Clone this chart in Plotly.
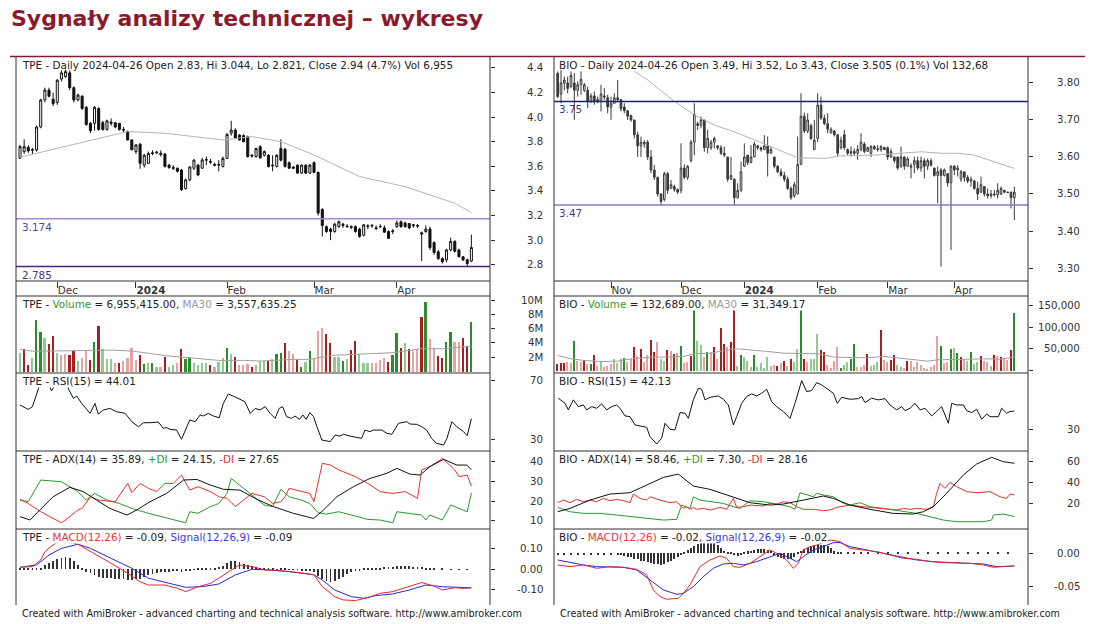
import plotly.graph_objects as go

W, H = 1097, 624
FONT = "DejaVu Sans"

# ======================= TPE (left chart) =======================
TPE_OPEN = [3.666,3.72,3.755,3.73,3.733,3.92,4.14,4.22,4.145,4.12,
 4.31,4.33,4.36,4.24,4.14,4.17,4.08,3.95,3.95,4.07,
 3.955,3.90,3.96,3.955,3.95,3.90,3.885,3.815,3.72,3.78,
 3.61,3.625,3.71,3.71,3.706,3.70,3.61,3.59,3.585,3.57,
 3.42,3.49,3.585,3.61,3.585,3.65,3.64,3.615,3.61,3.60,
 3.665,3.87,3.895,3.855,3.85,3.84,3.69,3.68,3.76,3.69,
 3.69,3.61,3.60,3.745,3.74,3.63,3.595,3.61,3.545,3.61,
 3.545,3.63,3.55,3.25,3.11,3.09,3.07,3.11,3.13,3.115,
 3.11,3.11,3.09,3.04,3.11,3.115,3.10,3.11,3.10,3.07,
 3.07,3.11,3.15,3.14,3.135,3.125,3.12,3.06,3.07,3.09,
 2.98,2.905,2.85,2.84,2.92,2.99,2.92,2.865,2.84,2.83]
TPE_HIGH = [3.775,3.82,3.77,3.75,3.93,4.15,4.24,4.24,4.20,4.31,
 4.38,4.385,4.38,4.25,4.19,4.18,4.09,3.96,4.09,4.08,
 3.97,3.98,3.99,3.96,3.95,3.92,3.89,3.82,3.78,3.79,
 3.70,3.72,3.73,3.725,3.73,3.71,3.62,3.61,3.59,3.58,
 3.50,3.60,3.66,3.62,3.67,3.68,3.66,3.63,3.65,3.68,
 3.87,3.97,3.91,3.86,3.86,3.85,3.70,3.75,3.77,3.73,
 3.70,3.69,3.70,3.82,3.75,3.64,3.60,3.615,3.615,3.615,
 3.62,3.64,3.56,3.26,3.12,3.10,3.14,3.16,3.14,3.13,
 3.12,3.12,3.10,3.13,3.13,3.13,3.12,3.13,3.12,3.08,
 3.09,3.16,3.16,3.15,3.14,3.13,3.13,3.07,3.12,3.11,
 2.99,2.92,2.86,2.93,3.02,3.00,2.93,2.87,2.85,3.044]
TPE_LOW = [3.66,3.70,3.71,3.70,3.72,3.91,4.12,4.16,4.09,4.10,
 4.29,4.32,4.22,4.12,4.13,4.06,3.93,3.87,3.89,3.89,
 3.89,3.89,3.93,3.91,3.89,3.88,3.81,3.73,3.70,3.58,
 3.59,3.62,3.69,3.70,3.68,3.59,3.58,3.57,3.55,3.40,
 3.41,3.48,3.57,3.52,3.58,3.61,3.62,3.60,3.56,3.59,
 3.66,3.85,3.82,3.81,3.80,3.67,3.67,3.67,3.66,3.68,
 3.59,3.56,3.59,3.64,3.59,3.58,3.58,3.54,3.54,3.54,
 3.54,3.55,3.20,3.03,3.06,3.00,3.06,3.10,3.10,3.10,
 3.09,3.06,3.02,3.03,3.09,3.10,3.08,3.10,3.06,3.01,
 3.05,3.10,3.10,3.10,3.09,3.10,3.10,2.83,3.06,2.92,
 2.88,2.84,2.81,2.82,2.91,2.90,2.86,2.83,2.785,2.821]
TPE_CLOSE = [3.76,3.76,3.725,3.735,3.92,4.14,4.22,4.17,4.11,4.30,
 4.36,4.37,4.24,4.14,4.18,4.07,3.94,3.89,4.08,3.90,
 3.90,3.97,3.95,3.92,3.90,3.895,3.815,3.735,3.775,3.625,
 3.69,3.705,3.705,3.715,3.695,3.60,3.59,3.585,3.56,3.41,
 3.49,3.595,3.65,3.53,3.652,3.655,3.635,3.61,3.615,3.665,
 3.86,3.895,3.83,3.815,3.80,3.68,3.685,3.745,3.67,3.72,
 3.60,3.605,3.69,3.65,3.60,3.585,3.585,3.545,3.61,3.545,
 3.61,3.55,3.22,3.12,3.07,3.07,3.13,3.15,3.12,3.11,
 3.105,3.07,3.03,3.125,3.115,3.12,3.095,3.11,3.065,3.015,
 3.075,3.14,3.11,3.11,3.10,3.12,3.115,3.05,3.09,2.94,
 2.90,2.85,2.825,2.92,2.99,2.91,2.865,2.84,2.81,2.94]
TPE_MA_X = [0, 26, 35, 49, 56, 63, 71, 82, 93, 105, 109]
TPE_MA_Y = [3.674, 3.883, 3.869, 3.815, 3.842, 3.801, 3.693, 3.517, 3.435, 3.30, 3.224]
TPE_LEVELS = [3.174, 2.785]
TPE_LEVEL_TXT = ["3.174", "2.785"]

TPE_VOL_MLN = [2.54,3.19,0.85,1.83,7.18,5.54,4.74,3.80,4.98,2.63,
 2.25,2.49,2.25,2.86,1.46,1.92,2.96,1.55,4.13,6.38,
 3.10,1.69,1.69,1.13,1.13,1.46,1.92,3.33,1.55,2.25,
 0.99,1.13,1.13,0.66,0.66,2.02,0.66,0.85,1.22,3.19,
 1.78,1.92,1.13,0.85,1.22,1.13,0.85,0.66,1.31,1.92,
 3.33,2.39,2.02,0.85,0.85,0.99,0.66,0.85,1.46,1.46,
 1.46,1.69,2.39,2.63,4.04,2.86,2.39,1.78,0.66,1.31,
 2.86,1.69,5.68,6.15,5.21,4.04,2.02,2.02,1.46,1.69,
 2.96,4.27,2.39,1.13,1.13,1.13,1.13,1.60,1.88,1.31,
 2.25,5.45,3.33,4.04,3.10,2.86,3.10,7.56,9.67,4.51,
 3.33,2.16,1.92,4.13,5.54,4.13,4.13,4.74,3.57,6.955]
TPE_VOL_KIND = ("gRRgGGgRRg" "rrRRgrrRGR" "gggrRrrrrR" "GgGgrRggrR" "GGggggRrgg"
                "GgRrrrRggg" "RgGGRrrRGg" "GrrrRRggGg" "RRgggrrrrR" "GGRgRrrRGr" "rRRGGrrRRG")
TPE_VMA_X = [0, 3, 18, 22, 27, 36, 41, 48, 54, 58, 66, 70, 75, 83, 90, 97, 102, 109]
TPE_VMA_Y = [3.1, 2.82, 2.96, 3.0, 2.86, 2.16, 1.92, 1.55, 1.55, 1.46, 1.69, 1.69, 2.25, 2.49, 2.63, 3.19, 3.19, 3.557]

TPE_RSI_X = [0,2,3,4.4,5.2,6.2,7.1,7.6,8.4,9.5,10.5,11.3,11.7,12.9,13.7,14.9,16.9,18.1,18.9,20.1,21.7,23.3,25.4,27,28.6,
 29.8,31.4,33.4,34.6,35.4,36.2,37.8,39,41,42.3,43.5,44.3,45.5,46.7,48.1,49.1,50.3,51.5,53.1,54.3,55.6,56.8,58,59.2,60.4,
 61.6,62.6,63.4,64.4,65.6,66.4,67.5,68.3,69.1,70,70.9,71.7,72.9,74.9,76.1,77.3,78.1,79.7,80.5,82.5,83.3,84.5,85.3,87.4,
 88.6,89.8,91.4,93.4,94.2,95.8,97,98.2,99.4,100.6,102.3,103.1,104.3,105.5,107.1,108,109]
TPE_RSI_Y = [53.4,50.4,52.3,64.1,71,73,67,63,67,72,73,70,64.3,57.9,59.5,54.5,47.7,54.5,47.2,50,51.1,48.8,47.7,42,38.6,
 41.3,41.3,41.8,37.5,38,36.8,36.3,30,43.2,42,46.6,45.9,47.7,45.9,44.7,54.5,60.9,59.5,57.3,55.7,47.7,51.1,50,52.3,47.7,
 44.3,51.1,52.3,45.4,44.3,45.9,43.6,46.6,43.6,48.2,45.4,38.6,29.5,28.4,32.9,32.2,33.4,32.2,31.8,30.6,36.3,35.2,36.3,36.3,
 34,33.4,40.9,42,40.4,40.2,38.6,36.3,30.6,27.2,26.1,30.6,42,38.6,35.2,32.5,44.01]

TPE_ADX_X = [0,2.4,4.8,8,12,15.3,18.5,21.7,25.8,28.2,31.4,35.4,39.5,42.7,45.9,49.1,53.1,57.2,61.2,66,70.9,73.3,76.5,
 80.5,84.5,88.6,91,94.2,96.6,99,102.3,105.5,107.9,109]
TPE_ADX_Y = [12.1,10.4,15.5,22.2,27,24.8,20.5,16.3,12.9,15.5,19.7,23.9,30.7,31,28.2,26,25.6,20.9,17.2,13.8,11.2,15.5,
 22.2,27.3,31.5,34.1,36.6,33.7,33.2,37.5,41.2,38.3,38.3,35.89]
TPE_PDI_X = [0,2,5,10,14,16,18,21,24,27,31,36,40,41,43,46,48,50,51,54,57,59,61,63,65,68,70,72,74,77,81,84,87,90,91,94,
 97,98,99,102,104,108,109]
TPE_PDI_Y = [20.5,19.7,30.7,29.8,24.8,20.5,23.9,20.5,18.8,16.3,13.8,11.2,9,14.6,13.8,17.2,18.8,23.9,31.5,26.5,21.4,18,
 17.2,26,22.2,20.5,18.8,14.1,13.4,14.6,12.4,10.7,10.4,9,14.6,13.8,12.9,10.4,12.9,10.4,18,14.6,24.15]
TPE_MDI_X = [0,2,5,8,10,12,14,15,17,19,23,26,27,29,31,33,35,37,39,41,43,46,48,50,52,55,56,59,61,63,64,65,67,70,71,73,
 75,77,81,84,87,90,93,96,97,99,102,105,106,108,109]
TPE_MDI_Y = [20.9,18.8,14.6,11.2,9,12.1,15.5,16.3,22.2,20.5,19.7,29,24.3,29,26.5,24.8,29,29,33.2,25.6,27.3,24.8,22.2,
 21.4,17.2,22.2,23.9,22.2,18.8,19.7,22.2,26.5,25.6,23.9,19.7,39.2,38.3,35.8,32.4,29,24.8,23.9,24.8,21.4,35.8,37.5,41.7,
 35.8,32.4,33.2,27.65]

TPE_MACD_X = [0,3,5,6,8,10,14,18,22,26,29,31,35,38,40,43,46,48,51,53,56,59,62,65,70,71,73,76,78,81,84,87,90,94,97,100,
 102,105,107,109]
TPE_MACD_Y = [0.0097,0.013,0.045,0.085,0.118,0.142,0.121,0.077,0.029,-0.019,-0.06,-0.076,-0.076,-0.092,-0.108,-0.084,
 -0.068,-0.043,-0.003,0.021,0.013,-0.003,-0.006,-0.011,-0.023,-0.027,-0.084,-0.132,-0.148,-0.151,-0.137,-0.116,-0.108,
 -0.084,-0.064,-0.081,-0.1,-0.089,-0.092,-0.09]
TPE_SIG_X = [0,4,7,10,14,17,22,27,31,36,40,44,48,52,56,60,65,71,73,76,80,83,86,90,94,98,102,106,109]
TPE_SIG_Y = [0.0097,0.021,0.069,0.101,0.121,0.101,0.053,0.005,-0.043,-0.068,-0.087,-0.084,-0.071,-0.027,0,-0.003,-0.011,
 -0.027,-0.052,-0.1,-0.132,-0.14,-0.127,-0.119,-0.1,-0.076,-0.084,-0.087,-0.09]
TPE_HIST = [0.002,0.002,0.003,0.003,0.005,
 0.008,0.021,0.032,0.042,0.05,0.056,0.06,0.055,0.04,0.022,0.005,
 -0.012,-0.02,-0.028,-0.035,-0.04,-0.042,-0.044,-0.045,-0.046,-0.048,-0.05,-0.05,-0.048,-0.045,
 -0.035,-0.028,-0.022,-0.018,-0.015,-0.013,-0.012,-0.01,-0.01,-0.012,-0.01,-0.006,-0.003,
 0.002,0.003,0.005,0.007,0.008,0.01,0.015,
 0.03,0.04,0.042,0.035,0.028,0.02,0.015,0.01,0.008,0.005,0.003,0.002,
 0.001,0.002,0.002,0.001,-0.002,-0.003,-0.004,-0.005,-0.008,
 -0.015,-0.03,-0.045,-0.055,-0.06,-0.055,-0.045,-0.035,-0.025,-0.015,-0.008,-0.004,
 0.002,0.004,0.005,0.006,0.008,0.01,0.012,0.013,0.015,0.016,0.015,0.014,0.013,0.012,0.01,0.008,0.006,
 0.002,0,0.002,0,0.001,0,0.001,0,0.001,0]
TPE_MONTH_POS = [9, 28, 50, 71, 91]
TPE_MONTH_TXT = ["Dec", "<b>2024</b>", "Feb", "Mar", "Apr"]

# ======================= BIO (right chart) =======================
BIO_OPEN = [3.826,3.77,3.799,3.80,3.79,3.80,3.78,3.795,3.78,3.78,
 3.75,3.765,3.755,3.75,3.765,3.76,3.735,3.745,3.76,3.755,
 3.735,3.725,3.712,3.70,3.66,3.63,3.635,3.64,3.60,3.565,
 3.545,3.50,3.485,3.555,3.515,3.52,3.512,3.51,3.57,3.545,
 3.59,3.64,3.69,3.685,3.70,3.625,3.625,3.64,3.63,3.625,
 3.61,3.60,3.54,3.54,3.49,3.51,3.575,3.605,3.585,3.60,
 3.63,3.625,3.62,3.63,3.61,3.60,3.575,3.56,3.55,3.54,
 3.515,3.495,3.50,3.58,3.71,3.67,3.685,3.62,3.65,3.74,
 3.705,3.69,3.665,3.67,3.66,3.625,3.66,3.62,3.61,3.615,
 3.61,3.62,3.635,3.615,3.61,3.628,3.622,3.62,3.625,3.625,
 3.60,3.60,3.60,3.575,3.60,3.575,3.572,3.58,3.59,3.57,
 3.59,3.575,3.59,3.57,3.55,3.565,3.55,3.555,3.53,3.575,
 3.565,3.54,3.56,3.545,3.535,3.535,3.515,3.505,3.52,3.50,
 3.495,3.50,3.498,3.50,3.51,3.505,3.505,3.49]
BIO_HIGH = [3.831,3.835,3.817,3.817,3.831,3.826,3.804,3.831,3.80,3.79,
 3.772,3.777,3.763,3.795,3.786,3.768,3.763,3.772,3.808,3.755,
 3.745,3.727,3.714,3.70,3.668,3.655,3.645,3.646,3.619,3.578,
 3.547,3.502,3.56,3.56,3.538,3.525,3.515,3.637,3.58,3.578,
 3.646,3.745,3.695,3.709,3.70,3.673,3.646,3.655,3.632,3.632,
 3.628,3.60,3.60,3.542,3.529,3.587,3.637,3.605,3.632,3.641,
 3.632,3.628,3.659,3.655,3.628,3.60,3.578,3.569,3.56,3.547,
 3.52,3.533,3.655,3.772,3.72,3.718,3.69,3.70,3.772,3.763,
 3.714,3.718,3.68,3.673,3.66,3.655,3.673,3.623,3.628,3.623,
 3.632,3.664,3.64,3.628,3.632,3.632,3.632,3.632,3.628,3.628,
 3.623,3.601,3.601,3.628,3.601,3.601,3.583,3.601,3.601,3.601,
 3.596,3.596,3.596,3.57,3.574,3.57,3.569,3.556,3.578,3.578,
 3.578,3.565,3.56,3.551,3.547,3.538,3.533,3.547,3.52,3.515,
 3.511,3.511,3.529,3.52,3.511,3.506,3.506,3.52]
BIO_LOW = [3.759,3.745,3.78,3.772,3.786,3.70,3.763,3.768,3.775,3.732,
 3.745,3.741,3.745,3.723,3.754,3.718,3.70,3.745,3.748,3.723,
 3.718,3.70,3.695,3.65,3.60,3.60,3.625,3.592,3.556,3.538,
 3.493,3.47,3.48,3.50,3.515,3.506,3.50,3.502,3.54,3.538,
 3.585,3.605,3.673,3.677,3.614,3.61,3.619,3.623,3.619,3.605,
 3.60,3.533,3.538,3.47,3.488,3.505,3.574,3.578,3.583,3.60,
 3.619,3.614,3.619,3.547,3.61,3.569,3.556,3.547,3.533,3.511,
 3.484,3.49,3.50,3.578,3.664,3.664,3.646,3.619,3.64,3.70,
 3.686,3.664,3.664,3.655,3.60,3.62,3.619,3.605,3.601,3.605,
 3.592,3.615,3.61,3.615,3.60,3.619,3.614,3.614,3.619,3.592,
 3.598,3.583,3.565,3.57,3.565,3.574,3.542,3.556,3.565,3.56,
 3.542,3.565,3.574,3.547,3.475,3.304,3.547,3.52,3.349,3.551,
 3.547,3.533,3.533,3.529,3.52,3.511,3.484,3.502,3.493,3.488,
 3.488,3.493,3.488,3.497,3.502,3.502,3.461,3.43]
BIO_CLOSE = [3.763,3.80,3.808,3.785,3.82,3.78,3.795,3.81,3.795,3.75,
 3.765,3.75,3.752,3.77,3.762,3.735,3.745,3.76,3.755,3.73,
 3.725,3.71,3.70,3.66,3.63,3.64,3.64,3.60,3.565,3.545,
 3.50,3.48,3.555,3.51,3.525,3.512,3.505,3.57,3.545,3.575,
 3.64,3.715,3.685,3.70,3.625,3.65,3.64,3.65,3.625,3.61,
 3.605,3.54,3.55,3.49,3.51,3.56,3.60,3.585,3.60,3.635,
 3.625,3.62,3.63,3.61,3.62,3.575,3.56,3.55,3.54,3.515,
 3.49,3.525,3.58,3.71,3.67,3.70,3.65,3.645,3.74,3.705,
 3.69,3.675,3.675,3.66,3.61,3.645,3.625,3.61,3.615,3.61,
 3.62,3.64,3.615,3.625,3.628,3.622,3.62,3.628,3.62,3.60,
 3.615,3.59,3.57,3.60,3.575,3.595,3.576,3.59,3.57,3.59,
 3.575,3.59,3.578,3.55,3.56,3.55,3.565,3.53,3.575,3.565,
 3.57,3.56,3.545,3.535,3.54,3.515,3.50,3.525,3.50,3.495,
 3.50,3.498,3.51,3.515,3.505,3.504,3.49,3.505]
BIO_MA_X = [23, 27, 35, 41, 47, 53, 59, 66, 72, 80, 85, 95, 100, 105, 109, 115, 120, 125, 131, 137]
BIO_MA_Y = [3.831, 3.808, 3.75, 3.714, 3.686, 3.668, 3.646, 3.62, 3.598, 3.596, 3.603, 3.605, 3.608, 3.61, 3.614,
            3.61, 3.61, 3.605, 3.587, 3.569]
BIO_LEVELS = [3.75, 3.47]
BIO_LEVEL_TXT = ["3.75", "3.47"]

BIO_VOL_K = [15.4,16.9,16.9,19.2,16.9,67.6,21.5,19.2,24.6,15.4,
 15.4,34.6,11.5,19.2,9.2,11.5,15.4,26.9,16.9,26.9,
 29.2,19.2,26.9,55.3,32.3,49.9,19.2,34.6,70.7,42.2,
 65.3,26.9,23.0,47.6,46.1,38.4,39.9,57.6,16.9,19.2,
 32.3,139.8,67.6,59.9,30.7,42.2,42.2,55.3,26.9,98.3,
 61.4,53.8,65.3,139.8,11.5,34.6,30.7,23.0,9.2,34.6,
 7.7,16.9,6.1,30.7,11.5,13.8,11.5,16.9,21.5,11.5,
 26.9,19.2,49.9,139.8,26.9,19.2,26.9,26.9,84.5,47.6,
 42.2,13.8,6.1,21.5,55.3,6.1,13.8,19.2,26.9,61.4,
 7.7,9.2,13.8,38.4,11.5,13.8,20.7,93.7,24.6,19.2,
 24.6,34.6,13.8,7.7,6.1,23.0,23.0,9.2,19.2,13.8,
 6.1,3.8,9.2,13.8,80.6,57.6,16.9,19.2,49.9,52.2,
 39.9,30.7,26.9,23.0,42.2,15.4,19.2,32.3,21.5,19.2,
 11.5,34.6,32.3,30.7,29.2,24.6,47.6,132.689]
BIO_VOL_KIND = ("RRRrrGrrRr" "GRrgrrrgrg" "GrrRrRrrRR" "rggRrRgGrr" "RGggrGrRrR" "RrRRgGggrG" "ggggrrRrRg"
                "RggGRrgggR" "RrrrrGggGG" "rrrRgggRrr" "RRggrRrrrr" "rgrrrGrrGg" "GRrgGggRrr" "gRrRrrRG")
BIO_VMA_X = [0, 4, 8, 13, 18, 22, 28, 33, 38, 41, 46, 50, 54, 58, 63, 68, 73, 78, 83, 88, 93, 98, 103, 108, 111, 114,
             118, 123, 128, 133, 137]
BIO_VMA_Y = [34.6, 26.9, 23, 20.7, 21.5, 26.9, 30.7, 30.7, 33, 38.4, 39.9, 46.1, 49.9, 47.6, 43.8, 39.9, 38.4, 38.4,
             30.7, 29.2, 29.2, 32.3, 28.4, 23, 21.5, 24.6, 25.3, 26.9, 26.9, 26.1, 31.349]

BIO_RSI_X = [0.2,2.2,3.2,4.7,6.2,7.7,8.7,10.2,11.7,13.2,14.7,16.2,17.7,18.7,20.2,21.7,23.2,25.2,26.7,27.7,29.7,31.2,32.2,
 33.7,35.2,36.7,38.2,39.2,40.7,42.2,43.2,44.2,45.7,48.2,49.7,51.2,52.7,53.7,55.2,56.7,58.2,59.7,61.2,62.7,64.2,65.7,
 67.7,69.7,71.2,73.2,74.7,76.2,77.7,79.2,81.2,82.7,83.9,85.2,87.7,90.2,91.2,92.2,94.2,96.2,98.2,99.7,101.7,103.2,104.2,
 105.7,107.2,108.7,110.2,112.2,113.7,115.2,117.2,118.2,119.7,121.7,122.7,124.2,125.7,127.2,128.7,129.7,132.2,133.2,
 134.7,135.7,137]
BIO_RSI_Y = [50.7,47.3,42.9,49.6,45.1,46.2,42.9,45.1,44,46.9,42.9,45.1,46.2,44,38.9,38.4,32.9,32.2,31.3,25.1,20.2,24,34,
 30,29.6,41.1,40.7,37.3,49.6,57.3,56.7,49.6,51.3,52.2,50,46.2,32.9,38.4,47.3,51.8,53.6,52.2,54,56.7,48.4,45.1,41.8,37.3,
 47.3,62.4,55.1,55.8,61.1,59.6,56.2,54,47.3,51.3,50,50.4,51.8,47.8,50.7,49.6,50.4,46.2,42.9,45.1,42.4,44,47.3,42.9,44,
 38.9,41.8,45.1,34,47.3,46.2,46.2,42.4,41.1,43.3,36.7,40.2,38.4,38.4,44,40.7,41.8,42.13]

BIO_ADX_X = [0,3.7,9.7,15.7,21.7,27.7,31.7,36.2,40.7,45.7,50.7,57.7,63.7,67.7,73.7,79.7,82.7,87.7,93.7,100.7,106.7,
 109.7,112.7,116.7,121.7,125.7,130.2,133.7,137]
BIO_ADX_Y = [11.9,15.1,23.1,28.9,30.2,39.2,44.9,48.1,36.6,33.4,28,20.6,18.3,19.3,23.1,27,24.7,18.3,14.2,10.3,9.7,11.9,
 16.7,29.6,47.2,57.8,64.2,60,58.46]
BIO_PDI_X = [0,3.7,7.7,12.7,17.7,22.7,27.7,31.7,35.7,37.2,39.7,40.7,42.7,45.7,49.7,52.7,54.7,57.7,61.7,65.7,69.7,71.2,
 72.7,76.7,77.7,79.7,82.7,85.7,87.7,90.7,93.7,97.7,100.7,103.7,107.7,111.7,115.7,119.7,123.7,127.7,130.2,130.7,133.7,137]
BIO_PDI_Y = [16.1,11.9,10.3,10.3,8.7,7.1,5.5,3.9,4.6,18.3,15.1,26.3,23.1,21.5,19.9,16.7,15.1,22.5,21.5,19.3,16.7,14.2,
 30.2,26.3,29.6,28,26.3,19.9,18.3,20.6,16.7,15.1,13.5,11.9,10.3,7.1,3.9,2.3,2.3,2.3,3.9,8.7,9.7,7.3]
BIO_MDI_X = [0,1.7,3.7,5.7,7.7,9.7,11.7,13.7,15.7,17.7,19.7,21.7,22.7,24.7,26.7,27.7,30.7,33.7,35.7,37.7,38.7,39.7,40.7,
 41.7,43.7,45.7,48.7,50.7,52.7,53.7,55.7,57.7,61.7,63.7,65.7,67.7,69.7,71.7,73.7,76.7,79.7,81.7,83.7,85.7,87.7,91.7,
 95.7,99.7,101.7,103.7,105.7,107.7,110.7,112.7,113.7,114.7,116.2,117.7,119.7,122.7,125.7,129.7,132.7,134.7,135.7,137]
BIO_MDI_Y = [20.6,23.1,20.6,23.8,21.5,23.1,21.5,24.7,22.5,23.8,22.5,20.6,28.9,24.7,23.1,26.3,23.1,20.6,21.5,15.1,16.7,
 14.2,16.1,14.2,15.1,13.5,16.1,14.2,24.7,16.1,16.7,18.3,17.4,19.9,19.3,21.5,20.6,16.7,14.2,14.2,12.9,13.5,16.1,17.4,
 18.3,16.7,15.1,14.2,13.5,15.1,14.2,15.1,14.2,16.7,29.6,39.2,34.4,40.1,36,31.2,30.2,31.2,26.3,24.7,28.9,28.16]

BIO_MACD_X = [0,3.7,7.7,11.7,15.7,19.7,23.7,26.7,28.7,30.7,32.7,36.2,37.7,39.7,42.7,45.7,48.7,50.7,52.7,54.7,57.7,60.7,
 63.7,66.7,68.7,70.7,72.2,73.7,75.7,77.7,79.7,81.7,84.7,87.7,91.7,95.7,99.7,103.7,107.7,111.7,115.7,119.7,123.7,127.7,
 130.7,133.7,137]
BIO_MACD_Y = [-0.0178,-0.0204,-0.0178,-0.0229,-0.0204,-0.0214,-0.0245,-0.0331,-0.056,-0.0663,-0.0703,-0.0688,-0.0612,
 -0.0484,-0.0204,-0.0102,-0.0041,-0.0076,-0.0204,-0.0214,-0.0153,-0.0051,0.0051,-0.0025,-0.0102,-0.0229,-0.0153,0.0051,
 0.0102,0.0127,0.0163,0.0204,0.0178,0.0076,0.0051,0.0025,-0.0025,-0.0076,-0.0092,-0.0127,-0.0143,-0.0143,-0.0153,
 -0.0178,-0.0214,-0.0204,-0.0194]
BIO_SIG_X = [0,3.7,7.7,11.7,15.7,19.7,23.7,27.7,31.7,35.7,37.7,40.7,43.7,46.7,49.7,52.7,55.7,59.7,63.7,66.7,69.7,71.7,
 73.7,76.7,79.7,82.7,84.7,87.7,92.7,97.7,102.7,107.7,112.7,117.7,122.7,127.7,131.7,137]
BIO_SIG_Y = [-0.0102,-0.0143,-0.0178,-0.0204,-0.0214,-0.0214,-0.0255,-0.0408,-0.056,-0.0627,-0.0612,-0.051,-0.0357,
 -0.0229,-0.0163,-0.0153,-0.0178,-0.0127,-0.0051,0,-0.0076,-0.0127,-0.0051,0.0051,0.0102,0.0163,0.0163,0.0102,0.0051,
 0,-0.0051,-0.0102,-0.0127,-0.0143,-0.0153,-0.0163,-0.0204,-0.0194]
BIO_HIST = [-0.002,0,-0.003,0,-0.003,0,-0.003,0,-0.002,0,
 -0.002,0,-0.002,0,-0.003,0,-0.002,0,-0.002,-0.003,
 -0.004,-0.005,-0.006,-0.008,-0.009,-0.011,-0.012,-0.014,-0.015,-0.016,-0.017,
 -0.018,-0.017,-0.014,-0.011,-0.008,-0.005,
 -0.002,0.002,0.005,0.008,0.011,0.014,0.016,0.018,0.018,0.017,0.015,0.012,0.008,
 0.004,0.002,0.001,-0.002,-0.004,-0.003,
 0.002,0.003,0.004,0.005,0.006,0.006,0.006,0.005,0.004,
 -0.003,-0.005,-0.007,-0.008,-0.009,-0.008,-0.006,
 0.002,0.004,0.006,0.008,0.01,0.011,0.012,0.013,0.013,0.011,0.008,
 0.003,0.002,0.001,0,0.002,0,0.001,0,0.002,0,
 0.001,0,0,0.001,0,0,0.001,0,0,0.001,
 0,0,0.001,0,0,0.001,0,0,0.001,0,
 0,0.001,0,0,0.001,0,0,0.001,0,0,
 0.001,0,0,0.001,0,0,0.001,0,0,0.001,
 0,0,0.001,0,0]
BIO_MONTH_POS = [16, 37, 56, 78, 99, 119]
BIO_MONTH_TXT = ["Nov", "Dec", "<b>2024</b>", "Feb", "Mar", "Apr"]

# ======================= texts =======================
TITLE = "Sygnały analizy technicznej – wykresy"
GREEN_T, RED_T, BLUE_T, GRAY_T = "#2f9a2f", "#e23a3a", "#3a3ad8", "#9a9a9a"
TPE_HEADERS = [
    "TPE - Daily 2024-04-26 Open 2.83, Hi 3.044, Lo 2.821, Close 2.94 (4.7%) Vol 6,955",
    f"TPE - <span style='color:{GREEN_T}'>Volume</span> = 6,955,415.00, <span style='color:{GRAY_T}'>MA30</span> = 3,557,635.25",
    "TPE - RSI(15) = 44.01",
    f"TPE - ADX(14) = 35.89, <span style='color:{GREEN_T}'>+DI</span> = 24.15, <span style='color:{RED_T}'>-DI</span> = 27.65",
    f"TPE - <span style='color:{RED_T}'>MACD(12,26)</span> = -0.09, <span style='color:{BLUE_T}'>Signal(12,26,9)</span> = -0.09",
]
BIO_HEADERS = [
    "BIO - Daily 2024-04-26 Open 3.49, Hi 3.52, Lo 3.43, Close 3.505 (0.1%) Vol 132,68",
    f"BIO - <span style='color:{GREEN_T}'>Volume</span> = 132,689.00, <span style='color:{GRAY_T}'>MA30</span> = 31,349.17",
    "BIO - RSI(15) = 42.13",
    f"BIO - ADX(14) = 58.46, <span style='color:{GREEN_T}'>+DI</span> = 7.30, <span style='color:{RED_T}'>-DI</span> = 28.16",
    f"BIO - <span style='color:{RED_T}'>MACD(12,26)</span> = -0.02, <span style='color:{BLUE_T}'>Signal(12,26,9)</span> = -0.02",
]
FOOTER = "Created with AmiBroker - advanced charting and technical analysis software. http://www.amibroker.com"

TPE_YTICKS = [([2.8, 3.0, 3.2, 3.4, 3.6, 3.8, 4.0, 4.2, 4.4], ["2.8", "3.0", "3.2", "3.4", "3.6", "3.8", "4.0", "4.2", "4.4"]),
              ([2, 4, 6, 8, 10], ["2M", "4M", "6M", "8M", "10M"]),
              ([30, 70], ["30", "70"]),
              ([10, 20, 30, 40], ["10", "20", "30", "40"]),
              ([-0.1, 0.0, 0.1], ["-0.10", "0.00", "0.10"])]
BIO_YTICKS = [([3.3, 3.4, 3.5, 3.6, 3.7, 3.8], ["3.30", "3.40", "3.50", "3.60", "3.70", "3.80"]),
              ([0, 50, 100, 150], ["", "50,000", "100,000", "150,000"]),
              ([30], ["30"]),
              ([20, 40, 60], ["20", "40", "60"]),
              ([-0.05, 0.0], ["-0.05", "0.00"])]

# ======================= layout helpers =======================
def xp(px):
    return px / W

def yp(py):
    return 1 - py / H

def xa(n):
    return "x" if n == 1 else f"x{n}"

def ya(n):
    return "y" if n == 1 else f"y{n}"

PANEL_PY = [(57, 281), (296, 373), (373, 451), (451, 529), (529, 605)]
VOL_COL = {"G": "#2a8c2a", "g": "#93c893", "R": "#a61e1e", "r": "#e6a3a3"}

CHARTS = [
    dict(base=1, px=(16, 490), xr=(-0.97, 113.5), label_right=545, head_x=21, foot_x=20,
         yr=[(2.668, 4.489), (-0.21, 10.56), (22.0, 75.26), (5.84, 45.43), (-0.1725, 0.1947)],
         o=TPE_OPEN, h=TPE_HIGH, l=TPE_LOW, c=TPE_CLOSE, max_=TPE_MA_X, may=TPE_MA_Y, ccol="#111111",
         levels=TPE_LEVELS, level_txt=TPE_LEVEL_TXT, level_col=["#a48ad8", "#4a2080"], level_tcol=["#5b3fa0", "#4a2f8a"],
         vol=TPE_VOL_MLN, kind=TPE_VOL_KIND, vmax=TPE_VMA_X, vmay=TPE_VMA_Y, vw=0.42,
         rsix=TPE_RSI_X, rsiy=TPE_RSI_Y, adxx=TPE_ADX_X, adxy=TPE_ADX_Y, pdix=TPE_PDI_X, pdiy=TPE_PDI_Y,
         mdix=TPE_MDI_X, mdiy=TPE_MDI_Y, macdx=TPE_MACD_X, macdy=TPE_MACD_Y, sigx=TPE_SIG_X, sigy=TPE_SIG_Y,
         hist=TPE_HIST, hw=0.2, mpos=TPE_MONTH_POS, mtxt=TPE_MONTH_TXT, heads=TPE_HEADERS, yticks=TPE_YTICKS),
    dict(base=6, px=(554, 1028), xr=(-1.1, 141.1), label_right=1082, head_x=558, foot_x=558,
         yr=[(3.265, 3.870), (-5.76, 171.7), (15.53, 67.5), (-4.71, 70.29), (-0.07905, 0.03716)],
         o=BIO_OPEN, h=BIO_HIGH, l=BIO_LOW, c=BIO_CLOSE, max_=BIO_MA_X, may=BIO_MA_Y, ccol="#3a3a3a",
         levels=BIO_LEVELS, level_txt=BIO_LEVEL_TXT, level_col=["#1e1e6e", "#8080c8"], level_tcol=["#3b3b9b", "#3b3b9b"],
         vol=BIO_VOL_K, kind=BIO_VOL_KIND, vmax=BIO_VMA_X, vmay=BIO_VMA_Y, vw=0.45,
         rsix=BIO_RSI_X, rsiy=BIO_RSI_Y, adxx=BIO_ADX_X, adxy=BIO_ADX_Y, pdix=BIO_PDI_X, pdiy=BIO_PDI_Y,
         mdix=BIO_MDI_X, mdiy=BIO_MDI_Y, macdx=BIO_MACD_X, macdy=BIO_MACD_Y, sigx=BIO_SIG_X, sigy=BIO_SIG_Y,
         hist=BIO_HIST, hw=0.25, mpos=BIO_MONTH_POS, mtxt=BIO_MONTH_TXT, heads=BIO_HEADERS, yticks=BIO_YTICKS),
]

fig = go.Figure()
layout = dict(width=W, height=H, margin=dict(l=0, r=0, t=0, b=0, pad=0), autosize=False,
              paper_bgcolor="white", plot_bgcolor="white", showlegend=False,
              font=dict(family=FONT, size=10, color="#222222"), hovermode=False)
shapes = []
annotations = []

EDGE = "#303030"
HEAD_SIZE = 10.4

for ch in CHARTS:
    b = ch["base"]
    x0, x1 = ch["px"]
    for k, (pt, pb) in enumerate(PANEL_PY):
        n = b + k
        xkey = "xaxis" if n == 1 else f"xaxis{n}"
        ykey = "yaxis" if n == 1 else f"yaxis{n}"
        xax = dict(domain=[xp(x0), xp(x1)], range=list(ch["xr"]), anchor=ya(n), showgrid=False, zeroline=False,
                   showline=False, showticklabels=False, ticks="", fixedrange=True)
        if k == 0:
            xax.update(tickmode="array", tickvals=ch["mpos"], ticktext=ch["mtxt"], showticklabels=True,
                       ticks="outside", ticklen=6, tickcolor=EDGE, tickwidth=1,
                       ticklabelposition="outside right", tickfont=dict(size=10.4, color="#333333"),
                       rangeslider=dict(visible=False))
        tv, tt = ch["yticks"][k]
        yax = dict(domain=[yp(pb), yp(pt)], range=list(ch["yr"][k]), anchor=xa(n), side="right", showgrid=False,
                   zeroline=False, showline=False, ticks="outside", ticklen=4, tickcolor=EDGE, tickwidth=1,
                   tickmode="array", tickvals=tv, showticklabels=False, fixedrange=True)
        layout[xkey] = xax
        layout[ykey] = yax
        for v, t in zip(tv, tt):
            if t:
                annotations.append(dict(x=xp(ch["label_right"]), xref="paper", y=v, yref=ya(n), text=t,
                                        showarrow=False, xanchor="right", yanchor="middle",
                                        font=dict(size=10.2, color="#333333")))
        hy = pt + 8
        annotations.append(dict(x=xp(ch["head_x"]), xref="paper", y=yp(hy), yref="paper", text=ch["heads"][k],
                                showarrow=False, xanchor="left", yanchor="middle", bgcolor="white" if k > 0 else None,
                                borderpad=0, font=dict(size=HEAD_SIZE, color="#222222")))

    # price panel
    n = b
    idx = list(range(len(ch["c"])))
    fig.add_trace(go.Candlestick(x=idx, open=ch["o"], high=ch["h"], low=ch["l"], close=ch["c"],
                                 increasing=dict(line=dict(color=ch["ccol"], width=1), fillcolor="white"),
                                 decreasing=dict(line=dict(color=ch["ccol"], width=1), fillcolor=ch["ccol"]),
                                 whiskerwidth=0, xaxis=xa(n), yaxis=ya(n)))
    fig.add_trace(go.Scatter(x=ch["max_"], y=ch["may"], mode="lines", line=dict(color="#b5b5b5", width=1),
                             xaxis=xa(n), yaxis=ya(n)))
    for lv, lt, lc, tc in zip(ch["levels"], ch["level_txt"], ch["level_col"], ch["level_tcol"]):
        shapes.append(dict(type="line", xref=f"{xa(n)} domain", x0=0, x1=1, yref=ya(n), y0=lv, y1=lv,
                           line=dict(color=lc, width=1.5)))
        annotations.append(dict(x=xp(ch["head_x"] - 1), xref="paper", y=lv, yref=ya(n), yshift=-8, text=lt,
                                showarrow=False, xanchor="left", yanchor="middle", font=dict(size=10.4, color=tc)))

    # volume
    n = b + 1
    vidx = list(range(len(ch["vol"])))
    fig.add_trace(go.Bar(x=vidx, y=ch["vol"], width=ch["vw"],
                         marker=dict(color=[VOL_COL[s] for s in ch["kind"]], line=dict(width=0)),
                         xaxis=xa(n), yaxis=ya(n)))
    fig.add_trace(go.Scatter(x=ch["vmax"], y=ch["vmay"], mode="lines", line=dict(color="#a0a0a0", width=1),
                             xaxis=xa(n), yaxis=ya(n)))
    # RSI
    n = b + 2
    fig.add_trace(go.Scatter(x=ch["rsix"], y=ch["rsiy"], mode="lines", line=dict(color="#111111", width=1),
                             xaxis=xa(n), yaxis=ya(n)))
    # ADX
    n = b + 3
    fig.add_trace(go.Scatter(x=ch["pdix"], y=ch["pdiy"], mode="lines", line=dict(color="#2a9a2a", width=1),
                             xaxis=xa(n), yaxis=ya(n)))
    fig.add_trace(go.Scatter(x=ch["mdix"], y=ch["mdiy"], mode="lines", line=dict(color="#e83030", width=1),
                             xaxis=xa(n), yaxis=ya(n)))
    fig.add_trace(go.Scatter(x=ch["adxx"], y=ch["adxy"], mode="lines", line=dict(color="#111111", width=1),
                             xaxis=xa(n), yaxis=ya(n)))
    # MACD
    n = b + 4
    hidx = list(range(len(ch["hist"])))
    fig.add_trace(go.Bar(x=hidx, y=ch["hist"], width=ch["hw"], marker=dict(color="#333333", line=dict(width=0)),
                         xaxis=xa(n), yaxis=ya(n)))
    fig.add_trace(go.Scatter(x=ch["sigx"], y=ch["sigy"], mode="lines", line=dict(color="#2828e0", width=1),
                             xaxis=xa(n), yaxis=ya(n)))
    fig.add_trace(go.Scatter(x=ch["macdx"], y=ch["macdy"], mode="lines", line=dict(color="#e82828", width=1),
                             xaxis=xa(n), yaxis=ya(n)))

    # frame
    for xv in (x0, x1):
        shapes.append(dict(type="line", xref="paper", yref="paper", x0=xp(xv), x1=xp(xv), y0=yp(57), y1=yp(605),
                           line=dict(color=EDGE, width=1)))
    for hv in (281, 296, 373, 451, 529):
        shapes.append(dict(type="line", xref="paper", yref="paper", x0=xp(x0), x1=xp(x1), y0=yp(hv), y1=yp(hv),
                           line=dict(color=EDGE, width=1)))
    annotations.append(dict(x=xp(ch["foot_x"]), xref="paper", y=yp(613), yref="paper", text=FOOTER, showarrow=False,
                            xanchor="left", yanchor="middle", font=dict(size=9.6, color="#222222")))

# top rule and title
shapes.append(dict(type="line", xref="paper", yref="paper", x0=xp(10), x1=xp(1085), y0=yp(56.5), y1=yp(56.5),
                   line=dict(color="#7a1c3a", width=1.5)))
annotations.append(dict(x=xp(9), xref="paper", y=yp(18), yref="paper", text=f"<b>{TITLE}</b>", showarrow=False,
                        xanchor="left", yanchor="middle", font=dict(size=22, color="#8b1a2c", family=FONT)))

layout["shapes"] = shapes
layout["annotations"] = annotations
layout["bargap"] = 0
fig.update_layout(**layout)
fig.write_html("out.html")
